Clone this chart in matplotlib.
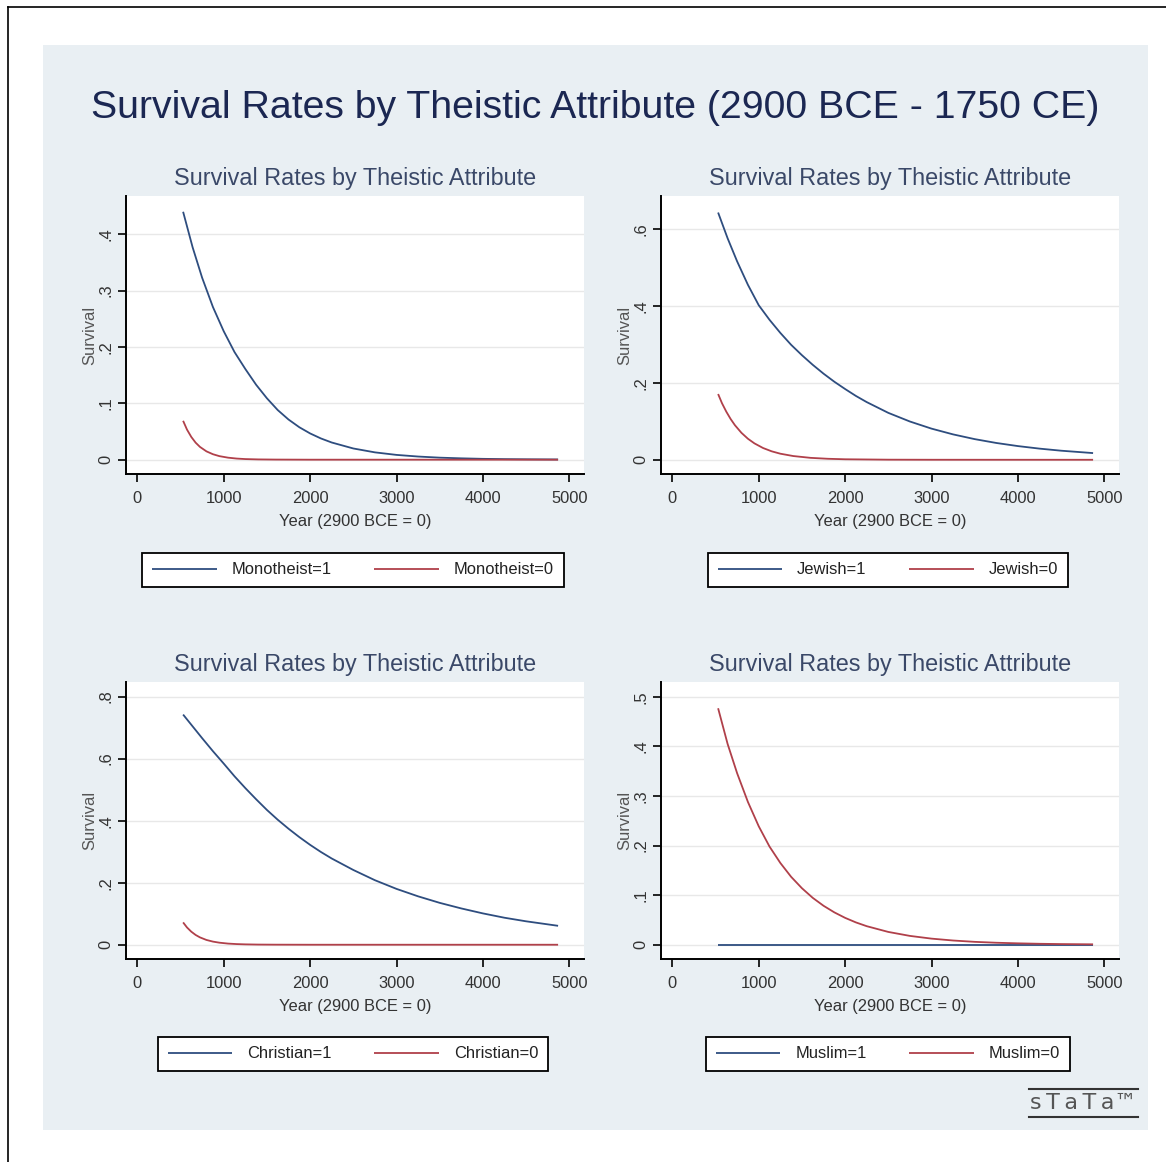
import matplotlib
matplotlib.use("Agg")
import matplotlib.pyplot as plt
from matplotlib import font_manager
from matplotlib.lines import Line2D
from matplotlib.patches import Rectangle

# ---------------- data ----------------
main_title = "Survival Rates by Theistic Attribute (2900 BCE - 1750 CE)"
sub_title = "Survival Rates by Theistic Attribute"
x_label = "Year (2900 BCE = 0)"
y_label = "Survival"
x_ticks = [0, 1000, 2000, 3000, 4000, 5000]

years_slow = [530, 640, 750, 875, 1000, 1125, 1250, 1375, 1500, 1625, 1750,
              1875, 2000, 2125, 2250, 2500, 2750, 3000, 3250, 3500, 3750,
              4000, 4250, 4500, 4870]
years_fast = [530, 575, 625, 675, 725, 800, 875, 950, 1050, 1150, 1250, 1400,
              1600, 1800, 2000, 2500, 3000, 4000, 4870]
years_flat = [530, 4870]

monotheist_1 = [0.44, 0.377, 0.323, 0.271, 0.228, 0.191, 0.161, 0.133, 0.109,
                0.0881, 0.0713, 0.0576, 0.0466, 0.0377, 0.0305, 0.0199, 0.013,
                0.0085, 0.0056, 0.0036, 0.0024, 0.0015, 0.001, 0.0007, 0.0004]
monotheist_0 = [0.069, 0.0534, 0.0403, 0.0302, 0.0227, 0.0148, 0.0097, 0.0063,
                0.0036, 0.002, 0.0011, 0.0005, 0.0002, 0.0001, 0.0, 0.0, 0.0,
                0.0, 0.0]

jewish_1 = [0.643, 0.576, 0.516, 0.455, 0.402, 0.364, 0.33, 0.299, 0.272,
            0.247, 0.224, 0.203, 0.184, 0.166, 0.15, 0.122, 0.0995, 0.081,
            0.066, 0.0537, 0.0437, 0.0356, 0.029, 0.0236, 0.0174]
jewish_0 = [0.171, 0.147, 0.125, 0.106, 0.0898, 0.0701, 0.0547, 0.0427,
            0.0306, 0.022, 0.0158, 0.0097, 0.005, 0.0026, 0.0013, 0.00025,
            0.00005, 0.0, 0.0]

christian_1 = [0.742, 0.704, 0.666, 0.624, 0.584, 0.543, 0.505, 0.469, 0.4345,
               0.403, 0.374, 0.347, 0.322, 0.299, 0.278, 0.241, 0.208, 0.18,
               0.156, 0.135, 0.117, 0.101, 0.087, 0.0755, 0.061]
christian_0 = [0.072, 0.0557, 0.042, 0.0315, 0.0237, 0.0154, 0.0101, 0.0066,
               0.0037, 0.0021, 0.0012, 0.0005, 0.0002, 0.0001, 0.0, 0.0, 0.0,
               0.0, 0.0]

muslim_1 = [0.0, 0.0]
muslim_0 = [0.477, 0.405, 0.346, 0.288, 0.239, 0.198, 0.165, 0.137, 0.114,
            0.0946, 0.0786, 0.0653, 0.0542, 0.045, 0.0374, 0.0258, 0.0178,
            0.0123, 0.0085, 0.0058, 0.004, 0.0028, 0.0019, 0.0013, 0.0008]

mono_labels = ["Monotheist=1", "Monotheist=0"]
jew_labels = ["Jewish=1", "Jewish=0"]
chr_labels = ["Christian=1", "Christian=0"]
mus_labels = ["Muslim=1", "Muslim=0"]

y_ticks_tl = [0, 0.1, 0.2, 0.3, 0.4]
y_ticks_tr = [0, 0.2, 0.4, 0.6]
y_ticks_bl = [0, 0.2, 0.4, 0.6, 0.8]
y_ticks_br = [0, 0.1, 0.2, 0.3, 0.4, 0.5]

# ---------------- styling ----------------
names = {f.name for f in font_manager.fontManager.ttflist}
if "Liberation Sans Narrow" in names:
    FONT = "Liberation Sans Narrow"
    k = 1.0
else:
    FONT = "Liberation Sans"
    k = 0.82
plt.rcParams["font.family"] = [FONT, "DejaVu Sans"]

BLUE = "#2e4d7f"
RED = "#b0404a"
BG = "#e9eff3"

W, H = 1166, 1162
fig = plt.figure(figsize=(W / 100, H / 100), dpi=100)
fig.patch.set_facecolor("white")


def rect(x0, y0, x1, y1):
    return [x0 / W, 1 - y1 / H, (x1 - x0) / W, (y1 - y0) / H]


fig.patches.append(Rectangle((43 / W, 1 - 1130 / H), (1148 - 43) / W,
                             (1130 - 45) / H, transform=fig.transFigure,
                             facecolor=BG, edgecolor="none", zorder=-10))
fig.lines.append(Line2D([8 / W, 1.0], [1 - 7 / H, 1 - 7 / H],
                        transform=fig.transFigure, color="black", lw=1.2,
                        zorder=-5))
fig.lines.append(Line2D([8 / W, 8 / W], [0, 1 - 7 / H],
                        transform=fig.transFigure, color="black", lw=1.2,
                        zorder=-5))

fig.text(595 / W, 1 - 118 / H, main_title, ha="center", va="baseline",
         fontsize=34.5 * k, color="#1b2752")

SMALL = 14.5 * k


def fmt(v):
    if v == 0:
        return "0"
    s = ("%g" % v)
    return s[1:] if s.startswith("0.") else s


panels = [
    ((126, 196, 584, 474), (-0.0254, 0.468), y_ticks_tl,
     [(years_slow, monotheist_1, BLUE), (years_fast, monotheist_0, RED)],
     mono_labels, 570),
    ((661, 196, 1119, 474), (-0.037, 0.686), y_ticks_tr,
     [(years_slow, jewish_1, BLUE), (years_fast, jewish_0, RED)],
     jew_labels, 570),
    ((126, 682, 584, 959), (-0.046, 0.847), y_ticks_bl,
     [(years_slow, christian_1, BLUE), (years_fast, christian_0, RED)],
     chr_labels, 1054),
    ((661, 682, 1119, 959), (-0.0288, 0.53), y_ticks_br,
     [(years_flat, muslim_1, BLUE), (years_slow, muslim_0, RED)],
     mus_labels, 1054),
]

for (box, ylim, yt, series, labels, leg_y) in panels:
    ax = fig.add_axes(rect(*box))
    ax.set_facecolor("white")
    handles = []
    for xs, ys, col in series:
        ln, = ax.plot(xs, ys, color=col, lw=1.3, solid_capstyle="butt",
                      solid_joinstyle="round")
        handles.append(ln)
    ax.set_xlim(-131, 5170)
    ax.set_ylim(*ylim)
    ax.set_xticks(x_ticks)
    ax.set_xticklabels([str(t) for t in x_ticks])
    ax.set_yticks(yt)
    ax.set_yticklabels([fmt(t) for t in yt], rotation=90, va="center")
    ax.yaxis.grid(True, color="#e8e8e8", lw=1.0)
    ax.set_axisbelow(True)
    for s in ("top", "right"):
        ax.spines[s].set_visible(False)
    for s in ("left", "bottom"):
        ax.spines[s].set_linewidth(1.4)
        ax.spines[s].set_color("black")
    ax.tick_params(axis="both", direction="out", length=6, width=1.2,
                   color="black", labelsize=SMALL, labelcolor="#333333")
    ax.tick_params(axis="x", pad=6)
    ax.tick_params(axis="y", pad=3)
    ax.set_xlabel(x_label, fontsize=SMALL, color="#333333", labelpad=6)
    ax.set_ylabel(y_label, fontsize=SMALL, color="#555555", labelpad=1)
    ax.set_title(sub_title, fontsize=20.5 * k, color="#3a4868", pad=8)
    cx = (box[0] + box[2]) / 2 - 2
    leg = ax.legend(handles, labels, ncol=2, loc="center",
                    bbox_to_anchor=(cx / W, 1 - leg_y / H),
                    bbox_transform=fig.transFigure, frameon=True,
                    fancybox=False, edgecolor="black", facecolor="white",
                    framealpha=1, fontsize=SMALL, handlelength=3.9,
                    handletextpad=0.9, columnspacing=2.6, borderpad=0.6)
    leg.get_frame().set_linewidth(1.3)
    for t in leg.get_texts():
        t.set_color("#222222")

# Stata logo
fig.text(1083 / W, 1 - 1103 / H, "s\u2009T\u2009a\u2009T\u2009a\u2122",
         ha="center", va="center", fontsize=16, color="#555555",
         family=["DejaVu Sans"])
fig.lines.append(Line2D([1029 / W, 1138 / W], [1 - 1089 / H] * 2,
                        transform=fig.transFigure, color="#333333", lw=1.5))
fig.lines.append(Line2D([1029 / W, 1138 / W], [1 - 1117 / H] * 2,
                        transform=fig.transFigure, color="#333333", lw=1.5))

fig.savefig("out.png", dpi=100, facecolor="white")
